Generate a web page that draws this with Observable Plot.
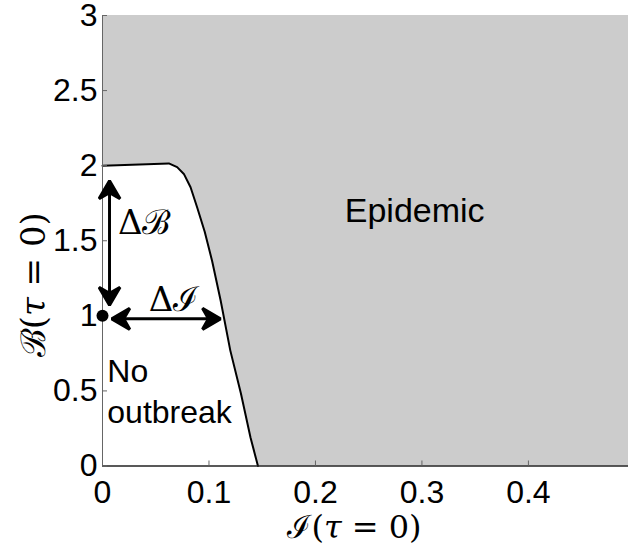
<!DOCTYPE html>
<html><head><meta charset="utf-8">
<script src="https://cdn.jsdelivr.net/npm/d3@7"></script>
<script src="https://cdn.jsdelivr.net/npm/@observablehq/plot@0.6"></script>
<style>body{margin:0;background:#fff}</style>
</head><body><div id="chart"></div>
<script>
// Threshold curve between "No outbreak" and "Epidemic"
const boundaryI = [0, 0.0623, 0.0701, 0.0764, 0.0827, 0.089, 0.096, 0.103, 0.111, 0.120, 0.130, 0.139, 0.146];
const boundaryB = [2.0, 2.015, 1.99, 1.945, 1.856, 1.72, 1.56, 1.364, 1.10, 0.77, 0.483, 0.19, 0];
const xMax = 0.494;
const yMax = 3;
const xTicks = [0, 0.1, 0.2, 0.3, 0.4];
const yTicks = [0, 0.5, 1, 1.5, 2, 2.5, 3];
// Annotation points
const pointI = [0];
const pointB = [1];
const arrowX1 = [0.0066, 0.0115];
const arrowY1 = [1.09, 0.98];
const arrowX2 = [0.0066, 0.108];
const arrowY2 = [1.88, 0.98];
const labelText = ["Epidemic", "No", "outbreak"];
const labelI = [0.2932, 0.0045, 0.0045];
const labelB = [1.623, 0.5626, 0.2896];
const deltaText = ["Δℬ", "Δℐ"];
const deltaI = [0.0145, 0.0435];
const deltaB = [1.548, 1.035];
const xLabel = "ℐ(τ = 0)";
const yLabel = "ℬ(τ = 0)";

const boundary = boundaryI.map((I, i) => ({I, B: boundaryB[i]}));
const fillData = [...boundary, {I: xMax, B: 0}];
const arrows = arrowX1.map((x1, i) => ({x1, y1: arrowY1[i], x2: arrowX2[i], y2: arrowY2[i]}));
const labels = labelText.map((t, i) => ({t, I: labelI[i], B: labelB[i]}));
const deltas = deltaText.map((t, i) => ({t, I: deltaI[i], B: deltaB[i]}));

const sans = "'Liberation Sans', Arial, Helvetica, sans-serif";
const serif = "'DejaVu Serif', 'Liberation Serif', serif";

const head = (color, context) => {
  const m = d3.create("svg:marker")
    .attr("viewBox", "-16 -12 22 24")
    .attr("markerWidth", 22).attr("markerHeight", 24)
    .attr("markerUnits", "userSpaceOnUse")
    .attr("refX", 0).attr("refY", 0)
    .attr("orient", "auto-start-reverse");
  m.append("path").attr("d", "M3,0L-15,-10.5L-9,0L-15,10.5Z").attr("fill", "black");
  return m.node();
};

const chart = Plot.plot({
  width: 628, height: 550,
  marginLeft: 102, marginRight: 0, marginTop: 15, marginBottom: 84.5,
  x: {domain: [0, xMax]},
  y: {domain: [0, yMax]},
  style: {fontFamily: sans, background: "#fff"},
  marks: [
    Plot.areaY(fillData, {x: "I", y1: "B", y2: yMax, fill: "#cccccc"}),
    Plot.line(boundary, {x: "I", y: "B", stroke: "black", strokeWidth: 2}),
    Plot.ruleX([0], {stroke: "#666", strokeWidth: 1}),
    Plot.ruleY([0], {stroke: "#222", strokeWidth: 1.5}),
    Plot.axisX(xTicks, {tickSize: -5, text: null, stroke: "#666", label: null}),
    Plot.axisY(yTicks, {tickSize: -5, text: null, stroke: "#666", label: null}),
    Plot.axisX(xTicks, {tickSize: 0, tickPadding: 14, fontSize: 32, tickFormat: d => String(d), label: null, fill: "black"}),
    Plot.axisY(yTicks, {tickSize: 0, tickPadding: 5, fontSize: 32, tickFormat: d => String(d), label: null, fill: "black"}),
    Plot.link(arrows, {x1: "x1", y1: "y1", x2: "x2", y2: "y2", stroke: "black", strokeWidth: 3, markerStart: head, markerEnd: head}),
    Plot.dot(pointI.map((I, i) => ({I, B: pointB[i]})), {x: "I", y: "B", r: 6, fill: "black"}),
    Plot.text(labels.slice(0, 1), {x: "I", y: "B", text: "t", fontSize: 34, textAnchor: "middle", lineAnchor: "bottom", fill: "black"}),
    Plot.text(labels.slice(1), {x: "I", y: "B", text: "t", fontSize: 32, textAnchor: "start", lineAnchor: "bottom", fill: "black"}),
    Plot.text(deltas, {x: "I", y: "B", text: "t", fontSize: 34, fontFamily: serif, textAnchor: "start", lineAnchor: "bottom", fill: "black"}),
    Plot.text([xLabel], {text: d => d, frameAnchor: "bottom", textAnchor: "middle", dx: -11, dy: 72, lineAnchor: "bottom", fontSize: 32, fontFamily: serif, fill: "black"}),
    Plot.text([yLabel], {text: d => d, frameAnchor: "left", textAnchor: "middle", rotate: -90, dx: -58, dy: 44, lineAnchor: "bottom", fontSize: 34, fontFamily: serif, fill: "black"})
  ]
});
document.getElementById("chart").appendChild(chart);
// italic tau, as in the LaTeX labels
chart.querySelectorAll("text").forEach(t => {
  if (t.children.length === 0 && t.textContent.includes("τ")) {
    const parts = t.textContent.split("τ");
    t.textContent = "";
    parts.forEach((p, i) => {
      if (i > 0) {
        const ts = document.createElementNS("http://www.w3.org/2000/svg", "tspan");
        ts.setAttribute("font-style", "italic");
        ts.textContent = "τ";
        t.appendChild(ts);
      }
      if (p) t.appendChild(document.createTextNode(p));
    });
  }
});
</script></body></html>
